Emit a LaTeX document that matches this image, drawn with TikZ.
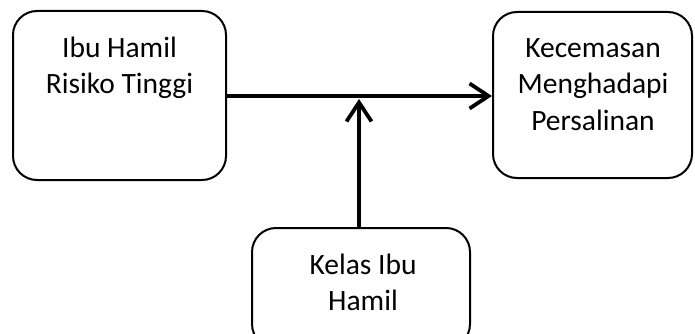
\documentclass[tikz,border=0pt]{standalone}
\usepackage{fontspec}
\setmainfont{Carlito}
\usetikzlibrary{arrows.meta}
\begin{document}
\begin{tikzpicture}[x=1pt,y=-1pt,
  box/.style={draw=black,line width=2pt,rounded corners=24pt,fill=white},
  boxtext/.style={anchor=base,inner sep=0pt,align=center,
    font=\fontsize{29.5pt}{36pt}\selectfont},
  link/.style={line width=3.8pt,-{Straight Barb[length=19pt,width=25pt,line width=3.8pt]}}]
  \useasboundingbox (0,0) rectangle (695,334);
  \clip (0,0) rectangle (695,334);
  % boxes
  \node[box,minimum width=213pt,minimum height=169pt] (risk) at (119.5,95.5) {};
  \node[box,minimum width=199pt,minimum height=166pt] (anx) at (592.5,95) {};
  \node[box,minimum width=218pt,minimum height=120pt] (class) at (361,288) {};
  % texts (anchored at the baseline of the last line)
  \node[boxtext] (risktxt) at (119.5,94) {Ibu Hamil\\Risiko Tinggi};
  \node[boxtext] (anxtxt) at (593,130) {Kecemasan\\Menghadapi\\Persalinan};
  \node[boxtext] (classtxt) at (363,310) {Kelas Ibu\\Hamil};
  % connectors
  \coordinate (meet) at (359,99);
  \draw[link] (risk.east |- 0,96) -- (anx.west |- 0,96);
  \draw[link] (class.north -| meet) -- (meet);
\end{tikzpicture}
\end{document}
